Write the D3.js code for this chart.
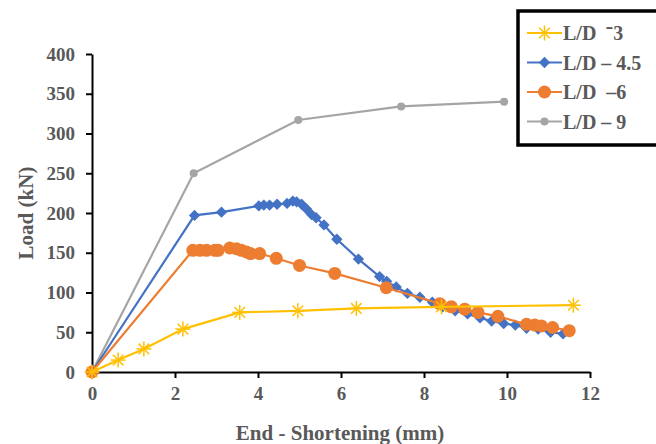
<!DOCTYPE html>
<html>
<head>
<meta charset="utf-8">
<script src="https://cdn.jsdelivr.net/npm/d3@7"></script>
<style>
body { margin:0; background:#fff; }
text { font-family:"Liberation Serif","Times New Roman",serif; font-weight:bold; fill:#595959; }
</style>
</head>
<body>
<div id="chart"></div>
<script>
// data (end shortening mm, load kN)
var ld3 = [[0,0],[0.63,15],[1.25,29],[2.19,54],[3.56,75],[4.96,77],[6.37,80],[8.42,82],[11.6,84]]
var ld45 = [[0,0],[2.47,197],[3.12,201],[4.02,209],[4.14,210],[4.28,210],[4.46,211],[4.7,212],[4.84,215],[4.93,214],
    [5.05,211],[5.17,205],[5.29,198],[5.4,194],[5.59,185],[5.9,167],[6.42,142],[6.93,120],[7.1,114],[7.33,107],
    [7.6,99],[7.9,94],[8.2,88],[8.45,82],[8.75,77],[9.05,73],[9.35,68],[9.63,64],[9.92,61],[10.2,59],
    [10.47,55],[10.75,54],[11.05,50],[11.35,48]]
var ld6 = [[0,0],[2.43,153],[2.6,153],[2.76,153],[2.96,153],[3.04,153],[3.32,156],[3.48,155],[3.6,153],[3.72,151],
    [3.82,149],[4.04,149],[4.44,143],[5.0,134],[5.85,124],[7.09,106],[8.38,86],[8.66,82],[8.98,79],[9.3,75],
    [9.78,70],[10.47,60],[10.67,59],[10.83,58],[11.1,56],[11.5,52]]
var ld9 = [[0,0],[2.45,250],[4.97,317],[7.45,334],[9.93,340]]

var seriesNames = ["L/D\u00A0\u00A0\u207B3","L/D\u00A0\u2013\u00A04.5","L/D\u00A0\u00A0\u20136","L/D\u00A0\u2013\u00A09"]
var xTicks = [0,2,4,6,8,10,12]
var yTicks = [0,50,100,150,200,250,300,350,400]

var viewboxwidth = 656, viewboxheight = 444
var margin = {top:54, left:92, right:66, bottom:72}

var svg = d3.select("#chart")
    .append("svg")
    .attr("width", viewboxwidth)
    .attr("height", viewboxheight)

var x = d3.scaleLinear().domain([0,12]).range([margin.left, viewboxwidth - margin.right])
var y = d3.scaleLinear().domain([0,400]).range([viewboxheight - margin.bottom, margin.top])

// axes
var xAxis = svg.append("g")
    .attr("transform","translate(0,"+ y(0) +")")
    .call(d3.axisBottom(x).tickValues(xTicks).tickSize(6).tickPadding(9).tickSizeOuter(0))
var yAxis = svg.append("g")
    .attr("transform","translate("+ x(0) +",0)")
    .call(d3.axisLeft(y).tickValues(yTicks).tickSize(6).tickPadding(11).tickSizeOuter(0))

svg.selectAll(".domain").attr("stroke","#000").attr("stroke-width",2)
svg.selectAll(".tick line").attr("stroke","#000").attr("stroke-width",2)
svg.selectAll(".tick text").style("font-size","19px").attr("fill","#595959")

svg.append("text")
    .attr("x", 340).attr("y", 440)
    .attr("text-anchor","middle")
    .style("font-size","21px")
    .text("End - Shortening (mm)")

svg.append("text")
    .attr("transform","translate(33,213) rotate(-90)")
    .attr("text-anchor","middle")
    .style("font-size","21px")
    .text("Load (kN)")

var line = d3.line().x(function(d){return x(d[0])}).y(function(d){return y(d[1])})

var colors = ["#FFC000","#4472C4","#ED7D31","#A5A5A5"]

function drawMarker(g, type, color, cx, cy){
    if (type == "star"){
        var r = 7.5
        for (var i = 0; i < 4; i++){
            var a = i*Math.PI/4
            g.append("line")
                .attr("x1", cx - r*Math.cos(a)).attr("y1", cy - r*Math.sin(a))
                .attr("x2", cx + r*Math.cos(a)).attr("y2", cy + r*Math.sin(a))
                .attr("stroke", color).attr("stroke-width",1.5)
        }
    } else if (type == "diamond"){
        g.append("path")
            .attr("d", d3.symbol().type(d3.symbolSquare).size(64)())
            .attr("transform","translate("+cx+","+cy+") rotate(45)")
            .attr("fill", color)
    } else if (type == "circle"){
        g.append("circle").attr("cx",cx).attr("cy",cy).attr("r",6.5).attr("fill",color)
    } else {
        g.append("circle").attr("cx",cx).attr("cy",cy).attr("r",4).attr("fill",color)
    }
}

var allSeries = [
    {data:ld9, color:colors[3], marker:"dot"},
    {data:ld3, color:colors[0], marker:"star"},
    {data:ld6, color:colors[2], marker:"circle"},
    {data:ld45, color:colors[1], marker:"diamond"}
]
// draw order roughly like the picture: gray, blue, orange, yellow on top
var order = [0,3,2,1]
order.forEach(function(k){
    var s = allSeries[k]
    var g = svg.append("g")
    g.append("path")
        .datum(s.data)
        .attr("d", line)
        .attr("fill","none")
        .attr("stroke", s.color)
        .attr("stroke-width", 2.2)
    s.data.forEach(function(d){ drawMarker(g, s.marker, s.color, x(d[0]), y(d[1])) })
})

// legend
var legend = svg.append("g")
legend.append("rect")
    .attr("x",518).attr("y",11).attr("width",160).attr("height",134)
    .attr("fill","#fff").attr("stroke","#000").attr("stroke-width",3.5)

var legendItems = [
    {name:seriesNames[0], color:colors[0], marker:"star"},
    {name:seriesNames[1], color:colors[1], marker:"diamond"},
    {name:seriesNames[2], color:colors[2], marker:"circle"},
    {name:seriesNames[3], color:colors[3], marker:"dot"}
]
legendItems.forEach(function(it, i){
    var ly = 33 + i*29.5
    legend.append("line")
        .attr("x1",527).attr("x2",562).attr("y1",ly).attr("y2",ly)
        .attr("stroke",it.color).attr("stroke-width",2.2)
    drawMarker(legend, it.marker, it.color, 544.5, ly)
    legend.append("text")
        .attr("x",563).attr("y",ly+7)
        .style("font-size","20px")
        .text(it.name)
})
</script>
</body>
</html>
